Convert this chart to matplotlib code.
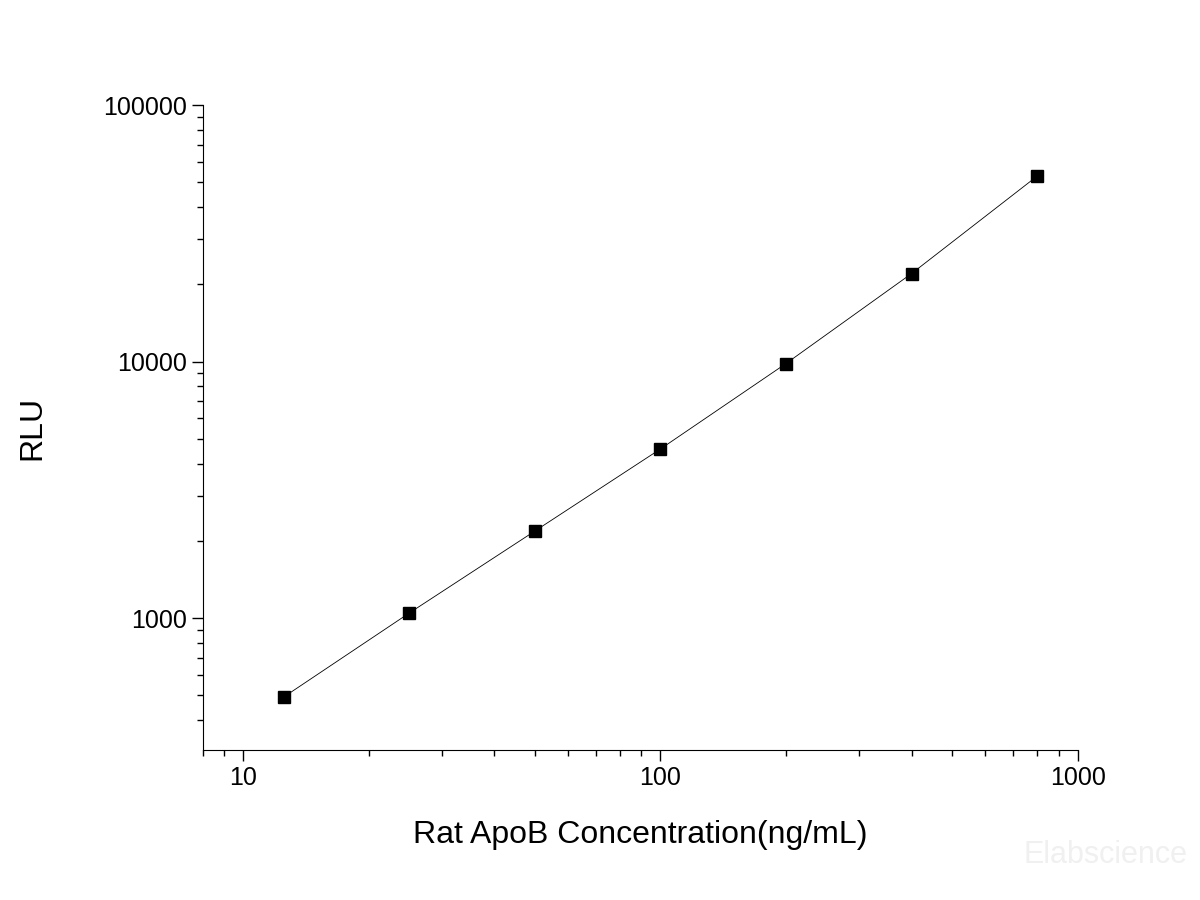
import matplotlib.pyplot as plt
from matplotlib.ticker import LogLocator, FixedLocator, FixedFormatter, NullFormatter

plt.rcParams['font.family'] = ['Liberation Sans', 'DejaVu Sans']

conc = [12.5, 25, 50, 100, 200, 400, 800]
rlu = [492, 1046, 2183, 4561, 9822, 22030, 52830]
x_ticks = [10, 100, 1000]
y_ticks = [1000, 10000, 100000]

fig = plt.figure(figsize=(12, 9), dpi=100)
ax = fig.add_axes([0.169, 0.1667, 0.729, 0.7166])
ax.plot(conc, rlu, color='black', lw=0.6, marker='s', ms=8, mfc='black')
ax.set_xscale('log')
ax.set_yscale('log')
ax.set_xlim(8, 1000)
ax.set_ylim(306, 100000)

ax.xaxis.set_major_locator(FixedLocator(x_ticks))
ax.xaxis.set_major_formatter(FixedFormatter([str(v) for v in x_ticks]))
ax.yaxis.set_major_locator(FixedLocator(y_ticks))
ax.yaxis.set_major_formatter(FixedFormatter([str(v) for v in y_ticks]))
ax.xaxis.set_minor_locator(LogLocator(base=10, subs=range(2, 10)))
ax.yaxis.set_minor_locator(LogLocator(base=10, subs=range(2, 10)))
ax.xaxis.set_minor_formatter(NullFormatter())
ax.yaxis.set_minor_formatter(NullFormatter())

for s in ['top', 'right']:
    ax.spines[s].set_visible(False)
ax.tick_params(which='major', direction='out', length=8, width=1, labelsize=18)
ax.tick_params(which='minor', direction='out', length=4, width=1)

ax.set_xlabel('Rat ApoB Concentration(ng/mL)', fontsize=23, labelpad=22)
ax.set_ylabel('RLU', fontsize=23, labelpad=40)

fig.text(0.99, 0.05, 'Elabscience', fontsize=22, color='#f0f0f0', ha='right', va='center')

fig.savefig('out.png', dpi=100)
